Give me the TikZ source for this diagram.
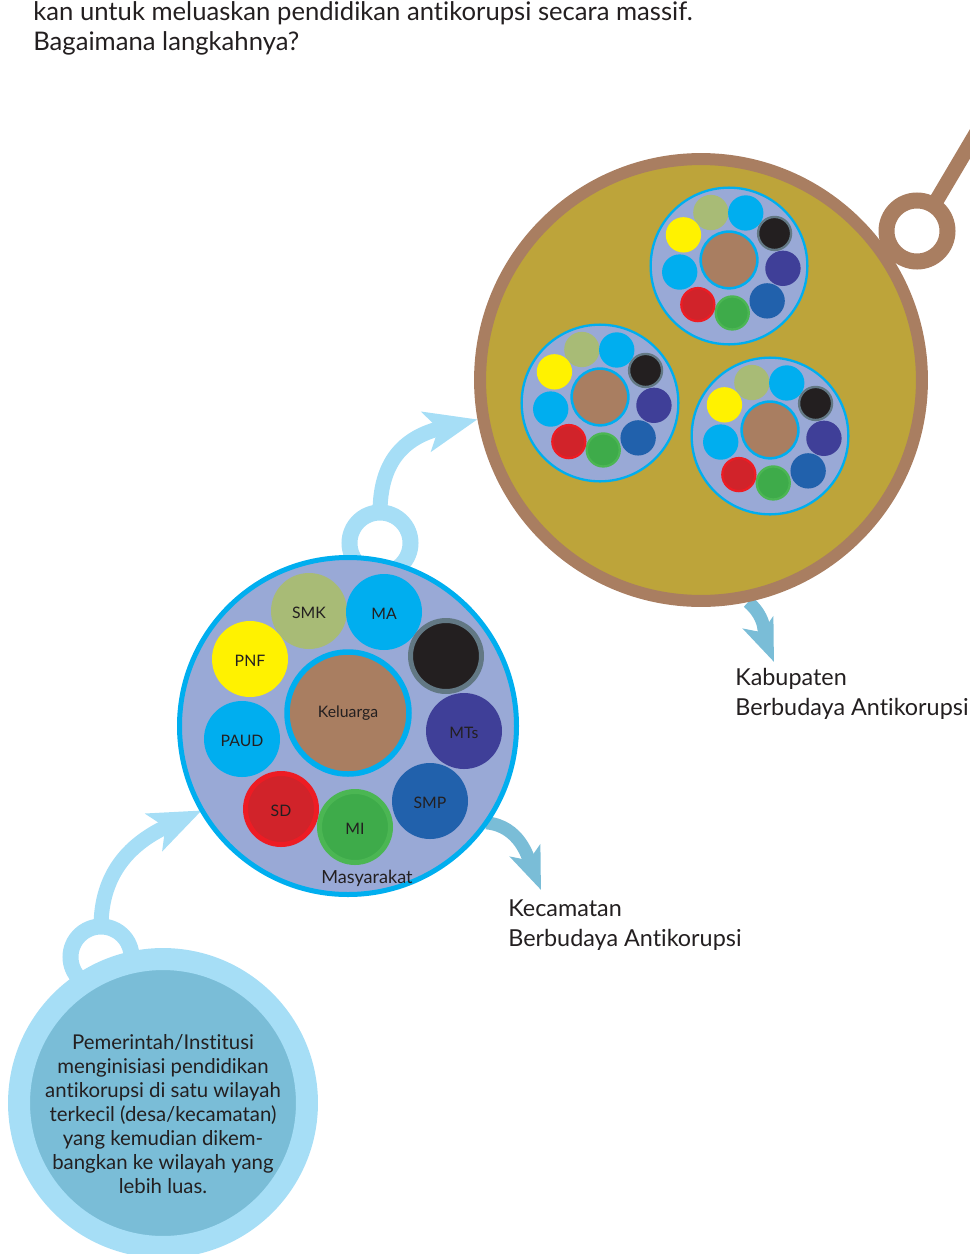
\documentclass[tikz,border=0pt]{standalone}
\usepackage{fontspec}
\setmainfont{Lato}[Ligatures=NoCommon]
\usepackage{xcolor}
\usetikzlibrary{calc}
\usetikzlibrary{positioning}
\usetikzlibrary{arrows.meta}
\usetikzlibrary{backgrounds}

\definecolor{biru}{HTML}{00AEEF}
\definecolor{lavender}{HTML}{99A9D6}
\definecolor{cokelat}{HTML}{A97E61}
\definecolor{zaitun}{HTML}{BDA43A}
\definecolor{birumuda}{HTML}{A6DEF6}
\definecolor{birusedang}{HTML}{7ABDD7}
\definecolor{teks}{HTML}{231F20}
\definecolor{hijaumuda}{HTML}{A8BB76}
\definecolor{kuning}{HTML}{FFF200}
\definecolor{ungu}{HTML}{3F3F98}
\definecolor{birutua}{HTML}{2161AC}
\definecolor{hitam}{HTML}{231F20}
\definecolor{abu}{HTML}{627884}
\definecolor{merah}{HTML}{D1232A}
\definecolor{merahterang}{HTML}{ED1C24}
\definecolor{hijau}{HTML}{3EAB4A}
\definecolor{hijauterang}{HTML}{4BB653}

% satu gugus sekolah: pusat, skala, label (1/0)
\newcommand{\gugus}[3]{%
	\begin{scope}[shift={#1}, scale=#2]
		\pgfmathsetmacro{\tebal}{#2*0.1}
		\pgfmathsetmacro{\tebalk}{#2*0.11}
		\draw[fill=lavender, draw=biru, line width=\tebal cm] (0,0) circle (168.5);
		\draw[fill=cokelat, draw=biru, line width=\tebalk cm] (0,13) circle (61);
		\foreach \x/\y/\isi/\tepi/\nama [count=\i] in {-39/115/hijaumuda/hijaumuda/SMK, 36/114/biru/biru/MA, 98/70/hitam/abu/, 116/-5/ungu/ungu/MTs, 82/-75/birutua/birutua/SMP, 7/-101/hijau/hijauterang/MI, -67/-83/merah/merahterang/SD, -106/-13/biru/biru/PAUD, -98/67/kuning/kuning/PNF}{
			\draw[fill=\isi, draw=\tepi, line width=\tebal cm] (\x,\y) circle (35.5);
			\ifnum#3=1 \node[kecil] (sekolah\i) at (\x,\y-2) {\nama}; \fi
		}
		\ifnum#3=1 \node[kecil] (keluarga) at (0,13) {Keluarga}; \fi
	\end{scope}
}

\begin{document}
\begin{tikzpicture}[x=0.02cm, y=0.02cm,
	kecil/.style={text=teks, font=\fontsize{9}{10}\selectfont, inner sep=0},
	ket/.style={text=teks, anchor=base west, align=left, inner sep=0, font=\fontsize{13.3}{17}\selectfont},
	masuk/.style={->, draw=birumuda, line width=0.3cm},
	keluar/.style={->, draw=birusedang, line width=0.26cm, >={Stealth[length=0.84cm, width=0.64cm, inset=0.2cm]}},
	cincin/.style={line width=0.32cm}]
	\tikzset{>={Stealth[length=1.04cm, width=0.8cm, inset=0.24cm]}}
	\useasboundingbox (0,0) rectangle (970,-1254);
	
	\node[text=teks, anchor=base west, align=left, inner sep=0, font=\fontsize{14.6}{17.6}\selectfont] (judul) at (33,-51) {kan untuk meluaskan pendidikan antikorupsi secara massif.\\Bagaimana langkahnya?};
	
	\node[circle, inner sep=0, minimum size=5.76cm, fill=birusedang, draw=birumuda, line width=0.44cm] (awal) at (163,-1103) {};
	\node[text=teks, align=center, font=\fontsize{11.6}{13.66}\selectfont] (awalteks) at (163,-1114) {Pemerintah/Institusi\\menginisiasi pendidikan\\antikorupsi di satu wilayah\\terkecil (desa/kecamatan)\\yang kemudian dikem-\\bangkan ke wilayah yang\\lebih luas.};
	
	\node[circle, inner sep=0, minimum size=6.74cm] (kec) at (348,-726) {};
	\gugus{(348,-726)}{1}{1}
	\node[text=teks, inner sep=0, font=\fontsize{10.3}{12}\selectfont] (masyarakat) at (367,-878) {Masyarakat};
	
	\node[circle, inner sep=0, minimum size=8.84cm, fill=zaitun, draw=cokelat, line width=0.24cm] (kab) at (701,-380) {};
	\gugus{(729,-266)}{0.465}{0}
	\gugus{(600,-403)}{0.465}{0}
	\gugus{(770,-436)}{0.465}{0}
	
	\coordinate (cincina) at (101,-957);
	\coordinate (cincinb) at (380,-543);
	\coordinate (cincinc) at (917,-231);
	\coordinate (ujung) at (990,-110);
	\coordinate (kectip) at (541,-890);
	\coordinate (kabtip) at (774,-662);
	
	\begin{scope}[on background layer]
		\draw[cincin, birumuda] (cincina) circle (30.5);
		\draw[cincin, birumuda] (cincinb) circle (30.5);
		\draw[cincin, cokelat] (cincinc) circle (30.5);
		\draw[masuk] ($(cincina)+(0,30)$) .. controls +(0,55) and +(-70,-32) .. (kec.210);
		\draw[masuk] ($(cincinb)+(0,30)$) .. controls +(0,50) and +(-75,-18) .. (kab.190);
		\draw[cokelat, line width=0.3cm] ($(cincinc)+(57:30)$) -- (ujung);
		\draw[keluar] (kec.-35) to[out=-5, in=112] (kectip);
		\draw[keluar] (kab.-78) to[out=-40, in=112] (kabtip);
	\end{scope}
	
	\node[ket] (kecteks) at (508,-946) {Kecamatan\\Berbudaya Antikorupsi};
	\node[ket] (kabteks) at (735,-715) {Kabupaten\\Berbudaya Antikorupsi};
\end{tikzpicture}
\end{document}
